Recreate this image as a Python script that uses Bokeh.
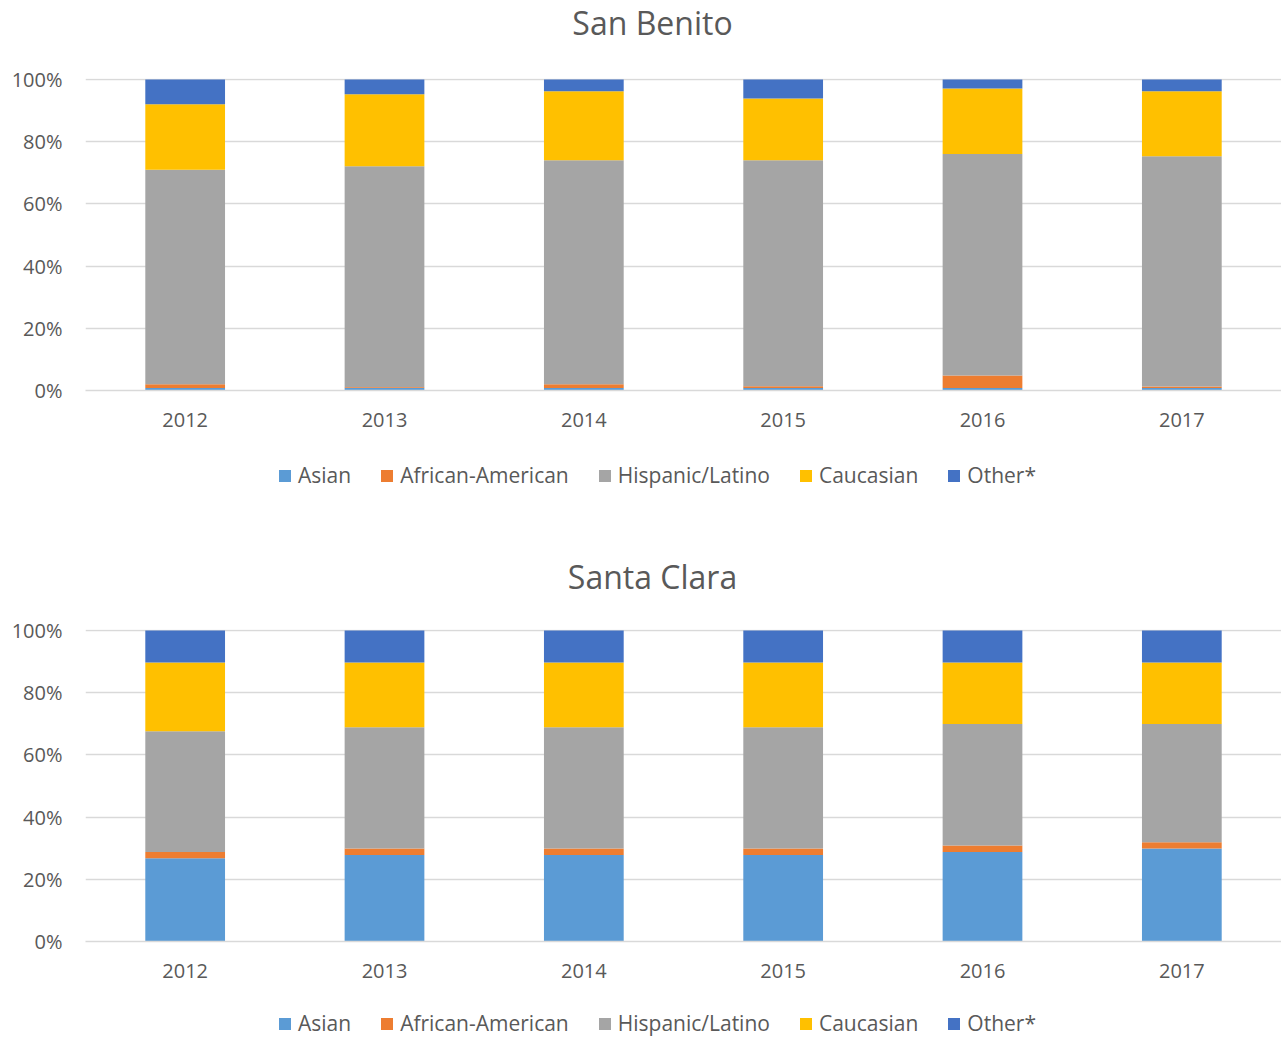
from bokeh.plotting import figure
from bokeh.models import (FactorRange, Range1d, FixedTicker, NumeralTickFormatter,
                          Legend, LegendItem, Label)
from bokeh.layouts import column
from bokeh.embed import file_html
from bokeh.resources import INLINE

years = ["2012", "2013", "2014", "2015", "2016", "2017"]
groups = ["Asian", "African-American", "Hispanic/Latino", "Caucasian", "Other*"]
colors = ["#5B9BD5", "#ED7D31", "#A5A5A5", "#FFC000", "#4472C4"]
y_ticks = [0, 0.2, 0.4, 0.6, 0.8, 1.0]

# San Benito shares (fractions)
sb_asian = [0.008, 0.009, 0.008, 0.008, 0.008, 0.008]
sb_african = [0.012, 0.002, 0.012, 0.006, 0.040, 0.005]
sb_hispanic = [0.690, 0.710, 0.720, 0.726, 0.712, 0.740]
sb_caucasian = [0.210, 0.231, 0.222, 0.199, 0.211, 0.209]
sb_other = [0.080, 0.048, 0.038, 0.061, 0.029, 0.038]

# Santa Clara shares (fractions)
sc_asian = [0.268, 0.278, 0.278, 0.278, 0.288, 0.299]
sc_african = [0.020, 0.021, 0.021, 0.021, 0.021, 0.020]
sc_hispanic = [0.388, 0.390, 0.390, 0.390, 0.390, 0.380]
sc_caucasian = [0.221, 0.208, 0.208, 0.208, 0.198, 0.198]
sc_other = [0.103, 0.103, 0.103, 0.103, 0.103, 0.103]

TEXT = "#595959"
GRID = "#D9D9D9"
FONT = "Open Sans"
W = 1281
LEFT = 85


def make_chart(series, top_border):
    data = {"year": years}
    for g, s in zip(groups, series):
        data[g] = s
    p = figure(x_range=FactorRange(*years), y_range=Range1d(0, 1.003),
               width=W, height=top_border + 312 + 55, output_backend="svg",
               toolbar_location=None,
               min_border_left=LEFT, min_border_right=0, min_border_top=top_border,
               min_border_bottom=55)
    p.outline_line_color = None
    p.vbar_stack(groups, x="year", width=0.4, color=colors, source=data,
                 line_color=None)

    p.yaxis.ticker = FixedTicker(ticks=y_ticks)
    p.yaxis.formatter = NumeralTickFormatter(format="0%")
    p.yaxis.axis_line_color = None
    p.yaxis.major_tick_line_color = None
    p.yaxis.minor_tick_line_color = None
    p.yaxis.major_tick_out = 0
    p.yaxis.major_tick_in = 0
    p.yaxis.major_label_standoff = 23
    p.yaxis.major_label_text_font = FONT
    p.yaxis.major_label_text_font_size = "20px"
    p.yaxis.major_label_text_color = TEXT

    p.xaxis.axis_line_color = GRID
    p.xaxis.axis_line_width = 1.5
    p.xaxis.major_tick_line_color = None
    p.xaxis.minor_tick_line_color = None
    p.xaxis.major_tick_out = 0
    p.xaxis.major_tick_in = 0
    p.xaxis.major_label_standoff = 22
    p.xaxis.major_label_text_font = FONT
    p.xaxis.major_label_text_font_size = "20px"
    p.xaxis.major_label_text_color = TEXT

    p.xgrid.grid_line_color = None
    p.ygrid.grid_line_color = GRID
    p.ygrid.grid_line_width = 1.5
    return p


def make_strip(height, legend_series=None, legend_bottom=0, title=None, title_y=0):
    s = figure(width=W, height=height, output_backend="svg", toolbar_location=None,
               x_axis_type=None, y_axis_type=None,
               x_range=Range1d(LEFT, W), y_range=Range1d(0, height),
               min_border_left=LEFT, min_border_right=0, min_border_top=0,
               min_border_bottom=0)
    s.outline_line_color = None
    s.grid.grid_line_color = None
    if legend_series is not None:
        # hidden proxies that only provide the legend swatches
        rs = [s.vbar(x=vals, top=vals, width=0.1, color=c, line_color=None, visible=False)
              for vals, c in zip(legend_series, colors)]
        legend = Legend(items=[LegendItem(label=g, renderers=[r]) for g, r in zip(groups, rs)],
                        orientation="horizontal", location=(192, legend_bottom),
                        label_text_font=FONT, label_text_font_size="21px",
                        label_text_color=TEXT, glyph_width=15, glyph_height=15,
                        label_standoff=6, spacing=28, padding=0, margin=0,
                        border_line_color=None, background_fill_alpha=0,
                        inactive_fill_alpha=0)
        s.add_layout(legend, "center")
    if title is not None:
        s.add_layout(Label(x=652, y=title_y, text=title, text_align="center",
                           text_baseline="middle", text_font=FONT,
                           text_font_size="32px", text_color=TEXT))
    return s


sb_series = [sb_asian, sb_african, sb_hispanic, sb_caucasian, sb_other]
sc_series = [sc_asian, sc_african, sc_hispanic, sc_caucasian, sc_other]

t1 = make_strip(46, title="San Benito", title_y=24)
p1 = make_chart(sb_series, 32)
m1 = make_strip(162, legend_series=sb_series, legend_bottom=118, title="Santa Clara", title_y=31)
p2 = make_chart(sc_series, 22)
l2 = make_strip(42, legend_series=sc_series, legend_bottom=1)
p = column(t1, p1, m1, p2, l2, spacing=0)

open("out.html", "w").write(file_html(p, INLINE))
